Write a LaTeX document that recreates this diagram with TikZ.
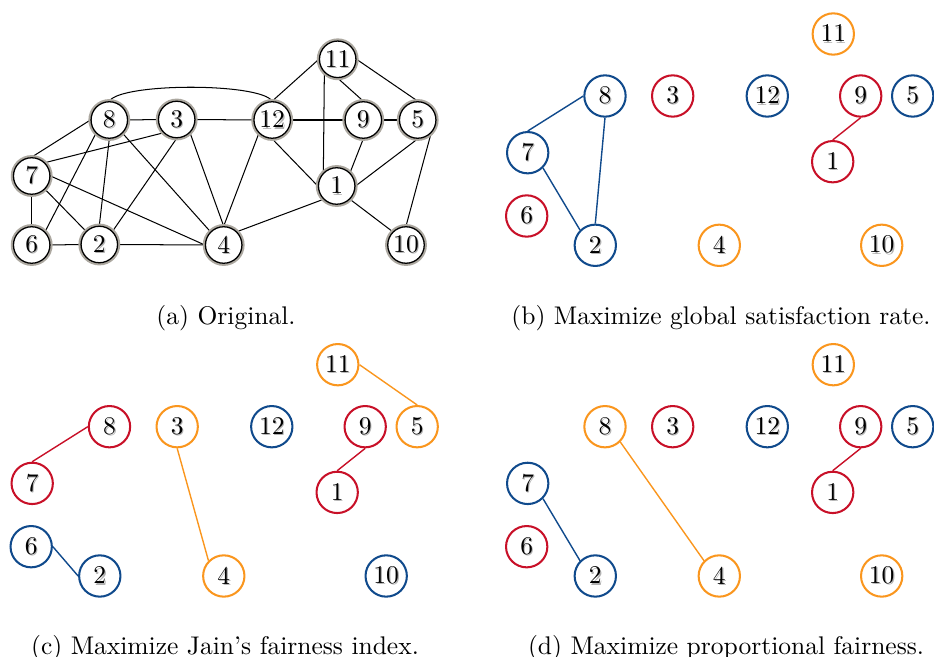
\documentclass[tikz,border=0pt]{standalone}
\usetikzlibrary{backgrounds}
\definecolor{cblue}{RGB}{16,74,140}
\definecolor{cred}{RGB}{200,16,40}
\definecolor{corange}{RGB}{250,150,30}
\definecolor{ringgray}{RGB}{172,168,160}
\newcommand\shtxt[1]{\rlap{\kern0.45pt\raisebox{-0.45pt}{\color{black!30}#1}}#1}
\begin{document}
\begin{tikzpicture}[x=0.392pt,y=-0.392pt,
  onode/.style={circle,draw=black,line width=0.5pt,fill=white,inner sep=0pt,
    minimum size=14.3pt,preaction={draw=ringgray,line width=2.1pt}},
  cnode/.style={circle,draw=#1,line width=0.8pt,fill=white,inner sep=0pt,minimum size=16.2pt},
  oedge/.style={line width=0.4pt,draw=black},
  cedge/.style={line width=0.55pt,draw=#1},
  captxt/.style={anchor=base,inner sep=0pt}]
\useasboundingbox (0,0) rectangle (934,657);

% ---------- panel (a)
\node[onode] (a11) at (337.7,59.3) {\shtxt{11}};
\node[onode] (a8) at (109.3,120) {\shtxt{8}};
\node[onode] (a3) at (176.7,119.5) {\shtxt{3}};
\node[onode] (a12) at (272.2,120) {\shtxt{12}};
\node[onode] (a9) at (363.3,120) {\shtxt{9}};
\node[onode] (a5) at (417.7,120) {\shtxt{5}};
\node[onode] (a7) at (31.7,176) {\shtxt{7}};
\node[onode] (a1) at (336.7,186) {\shtxt{1}};
\node[onode] (a6) at (31.7,245) {\shtxt{6}};
\node[onode] (a2) at (99.3,244.5) {\shtxt{2}};
\node[onode] (a4) at (223.7,245) {\shtxt{4}};
\node[onode] (a10) at (406,245) {\shtxt{10}};
\begin{scope}[on background layer]
\draw[oedge] (a8.east) -- (a3.west);
\draw[oedge] (a3.east) -- (a12.west);
\draw[oedge] (a12.east) -- (a9.west);
\draw[oedge] (a9.east) -- (a5.west);
\draw[oedge] (a8.north) .. controls +(12,-18.5) and +(-12,-18.5) .. (a12.north);
\draw[oedge] (a8.west) -- (a7.north);
\draw[oedge] (a3.south west) -- (a7.north east);
\draw[oedge] (a8.south west) -- (a6.north east);
\draw[oedge] (a8.south) -- (a2.north);
\draw[oedge] (a8.south east) -- (a4.north west);
\draw[oedge] (a3.south) -- (a2.north east);
\draw[oedge] (a3.south east) -- (a4.north);
\draw[oedge] (a12.south west) -- (a4.north);
\draw[oedge] (a7.south) -- (a6.north);
\draw[oedge] (a7.south east) -- (a2.north west);
\draw[oedge] (a7.east) -- (a4.west);
\draw[oedge] (a6.east) -- (a2.west);
\draw[oedge] (a2.east) -- (a4.west);
\draw[oedge] (a12.north) -- (a11.west);
\draw[oedge] (a11.south west) -- (a1.north west);
\draw[oedge] (a11.south) -- (a9.north);
\draw[oedge] (a11.east) -- (a5.north);
\draw[oedge] (a12.south) -- (a1.west);
\draw[oedge] (a9.south) -- (a1.north east);
\draw[oedge] (a5.south) -- (a1.east);
\draw[oedge] (a4.north east) -- (a1.south west);
\draw[oedge] (a1.south east) -- (a10.north west);
\draw[oedge] (a5.south east) -- (a10.north);
\end{scope}
\node[captxt] (capa) at (226,324.5) {(a) Original.};

% ---------- panel (b)
\node[cnode=corange] (b11) at (833.3,34) {\shtxt{11}};
\node[cnode=cblue] (b8) at (605,96) {\shtxt{8}};
\node[cnode=cred] (b3) at (672.7,96) {\shtxt{3}};
\node[cnode=cblue] (b12) at (767.3,96) {\shtxt{12}};
\node[cnode=cred] (b9) at (860.7,96) {\shtxt{9}};
\node[cnode=cblue] (b5) at (912.7,96) {\shtxt{5}};
\node[cnode=cblue] (b7) at (527.7,152.7) {\shtxt{7}};
\node[cnode=cred] (b1) at (832.7,161.7) {\shtxt{1}};
\node[cnode=cred] (b6) at (526.7,216) {\shtxt{6}};
\node[cnode=cblue] (b2) at (595.3,245.3) {\shtxt{2}};
\node[cnode=corange] (b4) at (719.3,245.3) {\shtxt{4}};
\node[cnode=corange] (b10) at (881.7,245.3) {\shtxt{10}};
\begin{scope}[on background layer]
\draw[cedge=cblue] (b8.west) -- (b7.north);
\draw[cedge=cblue] (b8.south) -- (b2.north);
\draw[cedge=cblue] (b7.south east) -- (b2.north west);
\draw[cedge=cred] (b9.south) -- (b1.north);
\end{scope}
\node[captxt] (capb) at (721,324.5) {(b) Maximize global satisfaction rate.};

% ---------- panel (c)
\begin{scope}[xshift=-194.24pt,yshift=-129.63pt]
\node[cnode=corange] (c11) at (833.3,34) {\shtxt{11}};
\node[cnode=cred] (c8) at (605,96) {\shtxt{8}};
\node[cnode=corange] (c3) at (672.7,96) {\shtxt{3}};
\node[cnode=cblue] (c12) at (767.3,96) {\shtxt{12}};
\node[cnode=cred] (c9) at (860.7,96) {\shtxt{9}};
\node[cnode=corange] (c5) at (912.7,96) {\shtxt{5}};
\node[cnode=cred] (c7) at (527.7,152.7) {\shtxt{7}};
\node[cnode=cred] (c1) at (832.7,161.7) {\shtxt{1}};
\node[cnode=cblue] (c6) at (526.7,216) {\shtxt{6}};
\node[cnode=cblue] (c2) at (595.3,245.3) {\shtxt{2}};
\node[cnode=corange] (c4) at (719.3,245.3) {\shtxt{4}};
\node[cnode=cblue] (c10) at (881.7,245.3) {\shtxt{10}};
\end{scope}
\begin{scope}[on background layer]
\draw[cedge=cred] (c8.west) -- (c7.north);
\draw[cedge=corange] (c3.south) -- (c4.north west);
\draw[cedge=corange] (c11.east) -- (c5.north);
\draw[cedge=cred] (c9.south) -- (c1.north);
\draw[cedge=cblue] (c6.east) -- (c2.west);
\end{scope}
\node[captxt] (capc) at (225,654) {(c) Maximize Jain's fairness index.};

% ---------- panel (d)
\begin{scope}[yshift=-129.63pt]
\node[cnode=corange] (d11) at (833.3,34) {\shtxt{11}};
\node[cnode=corange] (d8) at (605,96) {\shtxt{8}};
\node[cnode=cred] (d3) at (672.7,96) {\shtxt{3}};
\node[cnode=cblue] (d12) at (767.3,96) {\shtxt{12}};
\node[cnode=cred] (d9) at (860.7,96) {\shtxt{9}};
\node[cnode=cblue] (d5) at (912.7,96) {\shtxt{5}};
\node[cnode=cblue] (d7) at (527.7,152.7) {\shtxt{7}};
\node[cnode=cred] (d1) at (832.7,161.7) {\shtxt{1}};
\node[cnode=cred] (d6) at (526.7,216) {\shtxt{6}};
\node[cnode=cblue] (d2) at (595.3,245.3) {\shtxt{2}};
\node[cnode=corange] (d4) at (719.3,245.3) {\shtxt{4}};
\node[cnode=corange] (d10) at (881.7,245.3) {\shtxt{10}};
\end{scope}
\begin{scope}[on background layer]
\draw[cedge=corange] (d8.south east) -- (d4.north west);
\draw[cedge=cblue] (d7.south east) -- (d2.north west);
\draw[cedge=cred] (d9.south) -- (d1.north);
\end{scope}
\node[captxt] (capd) at (726,654) {(d) Maximize proportional fairness.};
\end{tikzpicture}
\end{document}
